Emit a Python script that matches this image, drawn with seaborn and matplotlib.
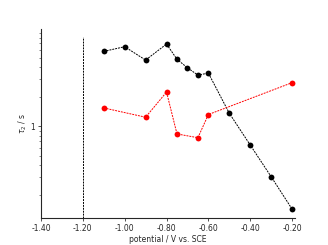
import numpy as np
import pandas as pd
import seaborn as sns
import matplotlib
matplotlib.use('Agg')
import matplotlib.pyplot as plt
from matplotlib.ticker import LogLocator, NullFormatter, FixedFormatter, FixedLocator

# black series
black_x = [-1.10, -1.00, -0.90, -0.80, -0.75, -0.70, -0.65, -0.60, -0.50, -0.40, -0.30, -0.20]
black_y = [5.78, 6.45, 4.71, 6.87, 4.80, 3.93, 3.31, 3.47, 1.35, 0.64, 0.304, 0.142]

# red series
red_x = [-1.10, -0.90, -0.80, -0.75, -0.65, -0.60, -0.20]
red_y = [1.53, 1.23, 2.22, 0.83, 0.76, 1.31, 2.77]

x_ticks = [-1.40, -1.20, -1.00, -0.80, -0.60, -0.40, -0.20]
x_tick_labels = ['-1.40', '-1.20', '-1.00', '-0.80', '-0.60', '-0.40', '-0.20']
v_line = -1.20

sns.set_style('ticks')
plt.rcParams['font.family'] = ['DejaVu Sans']

fig, ax = plt.subplots(figsize=(3.28, 2.45), dpi=100)
fig.subplots_adjust(left=0.125, right=0.90, bottom=0.11, top=0.882)

black = pd.DataFrame({'x': black_x, 'y': black_y})
red = pd.DataFrame({'x': red_x, 'y': red_y})

sns.lineplot(data=black, x='x', y='y', ax=ax, sort=False, color='black',
             linestyle=(0, (2, 1)), linewidth=0.7, marker='o', markersize=4.2,
             markeredgewidth=0)
sns.lineplot(data=red, x='x', y='y', ax=ax, sort=False, color='red',
             linestyle=(0, (2, 1)), linewidth=0.7, marker='o', markersize=4.2,
             markeredgewidth=0)

ax.axvline(v_line, ymin=0, ymax=0.958, color='black', linestyle=(0, (2, 1)), linewidth=0.7)

ax.set_yscale('log')
ax.set_xlim(-1.40, -0.185)
ax.set_ylim(0.115, 9.8)

ax.set_xticks(x_ticks)
ax.set_xticklabels(x_tick_labels)
ax.yaxis.set_major_locator(FixedLocator([1]))
ax.yaxis.set_major_formatter(FixedFormatter(['1']))
ax.yaxis.set_minor_locator(LogLocator(base=10, subs=np.arange(2, 10)))
ax.yaxis.set_minor_formatter(NullFormatter())

ax.tick_params(axis='both', which='major', labelsize=5.5, length=2.5, width=0.6, pad=1.5, color='#333333')
ax.tick_params(axis='y', which='minor', length=1.5, width=0.5, color='#555555')

for s in ['top', 'right']:
    ax.spines[s].set_visible(False)
for s in ['left', 'bottom']:
    ax.spines[s].set_linewidth(0.8)

ax.set_xlabel('potential / V vs. SCE', fontsize=5.5, labelpad=1.5)
ax.set_ylabel(r'$\tau_2$ / s', fontsize=5.5, labelpad=1)

fig.savefig('out.png', dpi=100)
